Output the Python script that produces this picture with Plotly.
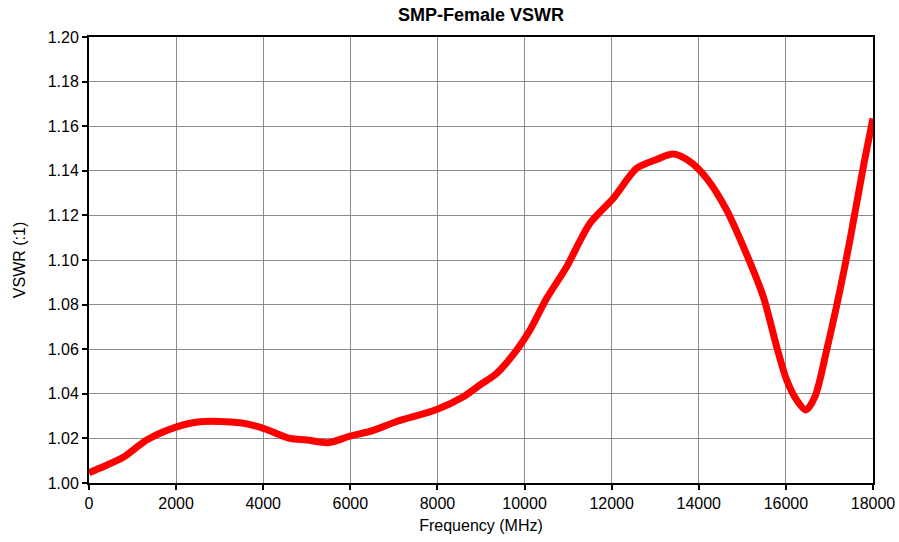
import plotly.graph_objects as go

freq_mhz = [0, 253, 788, 1324, 2013, 2548, 3467, 4002, 4615, 4998, 5495, 5992, 6528,
            7064, 7983, 8595, 8977, 9360, 9819, 10125, 10508, 10967, 11502, 12038,
            12574, 13033, 13416, 13798, 14181, 14640, 15023, 15482, 15788, 16018,
            16248, 16461, 16668, 16936, 17242, 17472, 17778, 18000]
vswr = [1.0046, 1.0067, 1.0115, 1.0193, 1.0252, 1.0275, 1.0270, 1.0245, 1.0200, 1.0193,
        1.0181, 1.0210, 1.0236, 1.0276, 1.0330, 1.0387, 1.0440, 1.0492, 1.0596, 1.0686,
        1.0828, 1.0970, 1.1165, 1.1277, 1.1411, 1.1451, 1.1475, 1.1441, 1.1366, 1.1224,
        1.1060, 1.0835, 1.0611, 1.0462, 1.0372, 1.0327, 1.0387, 1.0596, 1.0865, 1.1090,
        1.1418, 1.1635]

title_text = "SMP-Female VSWR"
x_title = "Frequency (MHz)"
y_title = "VSWR (:1)"

fig = go.Figure()
fig.add_trace(go.Scatter(
    x=freq_mhz, y=vswr, mode="lines",
    line=dict(color="#FF0000", width=7, shape="spline", smoothing=0.8),
    showlegend=False, hoverinfo="x+y",
))

font_family = "Liberation Sans, Arial, sans-serif"
fig.update_layout(
    width=899, height=542,
    margin=dict(l=89, r=26, t=37, b=59, autoexpand=False),
    paper_bgcolor="white", plot_bgcolor="white",
    font=dict(family=font_family, size=16, color="black"),
    title=dict(text="<b>" + title_text + "</b>", x=(89 + 873) / 2 / 899, xanchor="center",
               y=1 - 15 / 542, yanchor="middle", font=dict(size=18, family=font_family)),
)
fig.update_xaxes(
    range=[0, 18000], dtick=2000, tick0=0, tickformat="d",
    showgrid=True, gridcolor="#8c8c8c", gridwidth=1,
    showline=True, linecolor="black", linewidth=2, mirror=True,
    ticks="outside", ticklen=5, tickcolor="black", tickwidth=2,
    zeroline=False, automargin=False,
    title=dict(text=x_title, standoff=9, font=dict(size=16)),
    tickfont=dict(size=16),
)
fig.update_yaxes(
    range=[1.0, 1.2], dtick=0.02, tick0=1.0, tickformat=".2f",
    showgrid=True, gridcolor="#8c8c8c", gridwidth=1,
    showline=True, linecolor="black", linewidth=2, mirror=True,
    ticks="outside", ticklen=5, tickcolor="black", tickwidth=2,
    zeroline=False, automargin=False,
    title=dict(text=y_title, standoff=18, font=dict(size=16)),
    tickfont=dict(size=16),
)

fig.write_html("out.html", config={"displayModeBar": False},
               post_script="document.body.style.margin='0';")
